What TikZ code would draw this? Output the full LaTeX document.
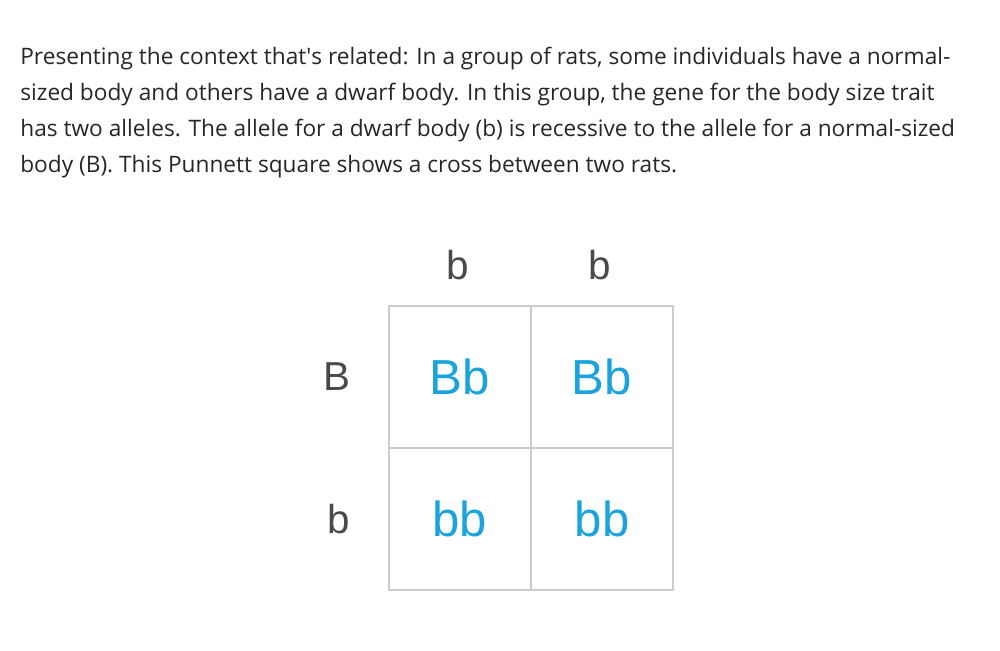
\documentclass[tikz,border=0pt]{standalone}
\usepackage{fontspec}
\setmainfont{Open Sans}
\newfontfamily\gridfont{Liberation Sans}
\usetikzlibrary{positioning}
\definecolor{textgray}{HTML}{262626}
\definecolor{labelgray}{HTML}{4A4A4A}
\definecolor{cellline}{HTML}{CCCCCC}
\definecolor{genocyan}{HTML}{1AA3DC}
\begin{document}
\begin{tikzpicture}[
    x=0.02cm, y=-0.02cm,
    para/.style={anchor=base west, inner sep=0pt, text=textgray, font=\fontsize{12.9pt}{15pt}\selectfont},
    allele/.style={inner sep=0pt, text=labelgray, font=\gridfont\fontsize{23pt}{26pt}\selectfont},
    cell/.style={draw=cellline, line width=1.1pt, minimum size=2.84cm, inner sep=0pt, text=genocyan, font=\gridfont\fontsize{28pt}{32pt}\selectfont}
]
    \useasboundingbox (0,0) rectangle (1000,650);

    % context text
    \node[para] (line1) at (20,64) {Presenting the context that\textquotesingle s related: In a group of rats, some individuals have a normal-};
    \node[para] (line2) at (20,100) {sized body and others have a dwarf body. In this group, the gene for the body size trait};
    \node[para] (line3) at (20,136) {has two alleles. The allele for a dwarf body (b) is recessive to the allele for a normal-sized};
    \node[para] (line4) at (20,172) {body (B). This Punnett square shows a cross between two rats.};

    % punnett square
    \node[cell] (bb11) at (460,377) {Bb};
    \node[cell] (bb12) at (602,377) {Bb};
    \node[cell] (bb21) at (460,519) {bb};
    \node[cell] (bb22) at (602,519) {bb};

    \node[allele] (top1) at (458,265) {b};
    \node[allele] (top2) at (600,265) {b};
    \node[allele] (left1) at (337,377) {B};
    \node[allele] (left2) at (339,519) {b};
\end{tikzpicture}
\end{document}
